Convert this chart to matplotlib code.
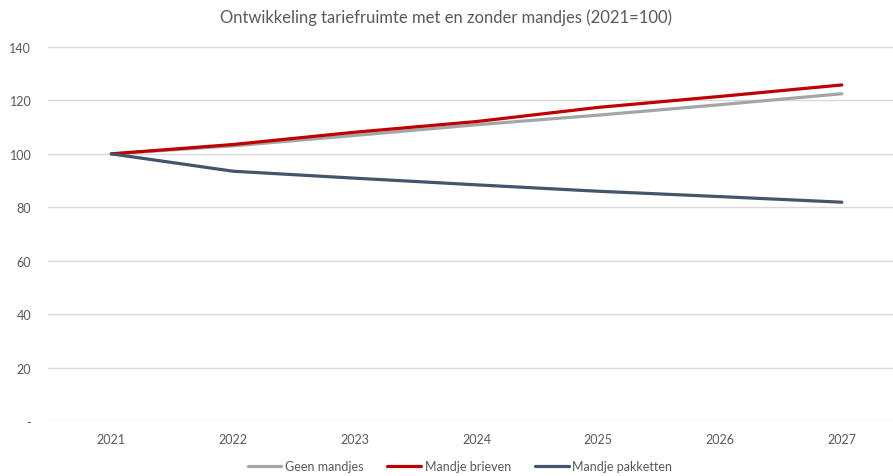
import matplotlib.pyplot as plt

years = ['2021', '2022', '2023', '2024', '2025', '2026', '2027']
geen_mandjes = [100, 103.0, 106.9, 110.9, 114.5, 118.4, 122.5]
mandje_brieven = [100, 103.5, 108.1, 112.1, 117.4, 121.5, 125.8]
mandje_pakketten = [100, 93.5, 90.9, 88.4, 86.0, 84.0, 81.9]
yticks = [0, 20, 40, 60, 80, 100, 120, 140]
ytick_labels = ['-', '20', '40', '60', '80', '100', '120', '140']

plt.rcParams['font.family'] = ['Lato', 'DejaVu Sans']
txt = '#595959'

fig = plt.figure(figsize=(8.93, 4.77), dpi=100)
ax = fig.add_axes([48/893, 55/477, 845/893, 374/477])

x = range(len(years))
ax.plot(x, geen_mandjes, color='#A5A5A5', linewidth=2.3, label='Geen mandjes', solid_capstyle='round')
ax.plot(x, mandje_brieven, color='#C00000', linewidth=2.3, label='Mandje brieven', solid_capstyle='round')
ax.plot(x, mandje_pakketten, color='#44546A', linewidth=2.3, label='Mandje pakketten', solid_capstyle='round')

ax.set_xlim(-0.52, 6.42)
ax.set_ylim(0, 140)
ax.set_xticks(list(x))
ax.set_xticklabels(years)
ax.set_yticks(yticks)
ax.set_yticklabels(ytick_labels)
ax.grid(axis='y', color='#D9D9D9', linewidth=1)
ax.set_axisbelow(True)
for s in ax.spines.values():
    s.set_visible(False)
ax.tick_params(length=0, labelsize=9, colors=txt)
ax.tick_params(axis='x', pad=9)
ax.tick_params(axis='y', pad=12)

fig.text(0.5, 1 - 18/477, 'Ontwikkeling tariefruimte met en zonder mandjes (2021=100)',
         ha='center', va='center', fontsize=12, color=txt)

fig.legend(loc='center', bbox_to_anchor=(460/893, 1 - 467/477), ncol=3, frameon=False,
           fontsize=9, labelcolor=txt, handlelength=2.7, handletextpad=0.3, columnspacing=1.9)

plt.savefig('out.png', dpi=100)
